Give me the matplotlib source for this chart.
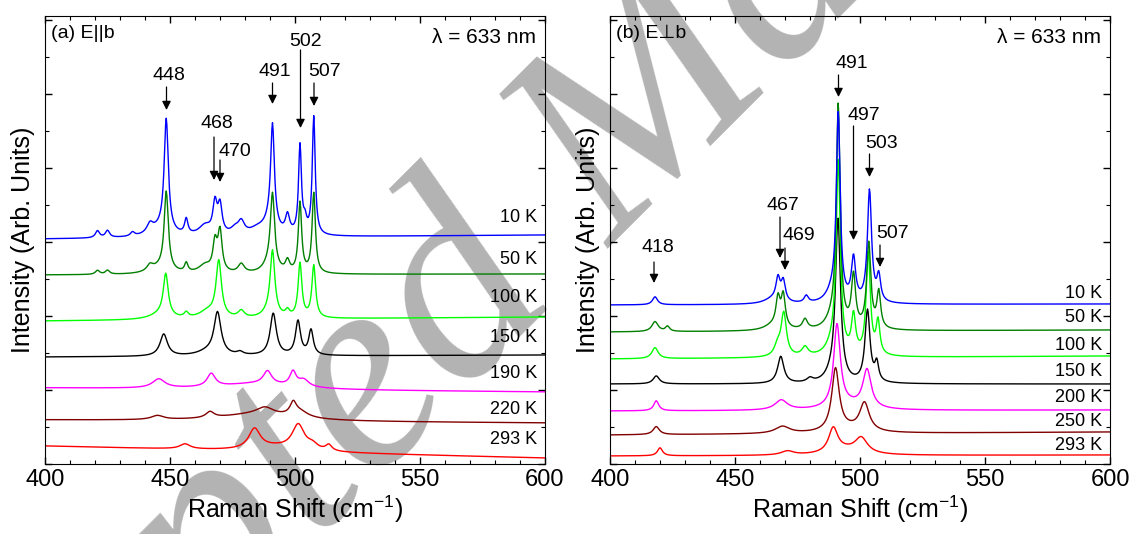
import matplotlib.pyplot as plt
import numpy as np

plt.rcParams['font.family'] = ['Liberation Sans', 'DejaVu Sans']
plt.rcParams['mathtext.fontset'] = 'custom'
plt.rcParams['mathtext.rm'] = 'Liberation Sans'

# Raman shift axis (cm-1)
shift = np.arange(400, 600.01, 0.25)

colors = ['#0000ff', '#007f00', '#00ff00', '#000000', '#ff00ff', '#800000', '#ff0000']

# ---- panel (a) E||b ----
temps_a = ['10 K', '50 K', '100 K', '150 K', '190 K', '220 K', '293 K']
base_a = [(225, 229), (189, 190), (143, 147), (107, 109), (76, 72), (44, 41), (18, 6)]
label_y_a = [246, 205, 166, 126, 91, 55, 24]
# peaks: (centre, height, half width)
peaks_a = [
    [(421, 7, 1.0), (425, 7, 1.0), (435, 4, 1.0), (442, 9, 1.5), (446, 8, 5), (448.5, 112, 1.0),
     (456.5, 15, 0.8), (464, 10, 3), (468, 30, 1.0), (470, 28, 1.0), (476, 6, 2), (478.5, 12, 1.5),
     (485, 6, 4), (490, 12, 3), (491, 100, 0.9), (497, 18, 1.0), (502, 88, 0.7), (504, 12, 0.8),
     (507.5, 118, 0.7)],
    [(421, 4, 1.0), (425, 4, 1.0), (442, 6, 1.5), (446, 6, 5), (448.5, 78, 1.0), (456.5, 9, 0.8),
     (464, 8, 3), (468, 28, 1.0), (470, 40, 1.0), (478.5, 9, 1.5), (490, 10, 3), (491, 72, 1.0),
     (497, 11, 1.0), (502, 70, 0.8), (507.5, 80, 0.8)],
    [(446, 5, 5), (448.3, 42, 1.2), (456.5, 5, 1.0), (465, 7, 4), (469.5, 56, 1.3), (478.5, 7, 1.5),
     (490, 7, 3), (491, 62, 1.1), (497, 6, 1.0), (502, 54, 0.9), (507.5, 52, 0.9)],
    [(447.5, 22, 1.8), (465, 4, 5), (469, 42, 1.7), (478, 3, 1.5), (491.3, 42, 1.5),
     (501.2, 34, 1.2), (506.4, 25, 1.1)],
    [(445.5, 9, 3), (466.5, 13, 2), (485, 6, 18), (489, 13, 2), (499.2, 14, 1.5), (503.5, 7, 2.5)],
    [(445, 4, 3), (466, 6, 2), (485, 7, 18), (488, 7, 4), (499.3, 12, 1.5), (502, 6, 4)],
    [(456, 5, 2.5), (483.8, 20, 2.8), (492, 4, 10), (501.3, 25, 3), (507, 5, 2.5), (513.5, 6, 1.5)],
]

# ---- panel (b) E perp b ----
temps_b = ['10 K', '50 K', '100 K', '150 K', '200 K', '250 K', '293 K']
base_b = [(159, 160), (132, 134), (105, 108), (80, 80), (53, 54), (29, 32), (8, 9)]
label_y_b = [171, 146, 118, 93, 66, 42, 18]
peaks_b = [
    [(418, 8, 1.2), (465, 5, 4), (467.2, 22, 1.0), (469.3, 20, 1.0), (478.5, 7, 1.0), (489, 10, 3),
     (491.3, 185, 0.9), (497.4, 43, 1.0), (503.8, 112, 1.0), (507.5, 25, 0.9)],
    [(418, 10, 1.5), (423, 5, 1.0), (465, 5, 4), (467.2, 28, 1.0), (469.3, 32, 1.0), (478, 10, 1.2),
     (489, 10, 3), (491.3, 220, 0.9), (497.4, 52, 1.0), (503.5, 85, 1.0), (507.5, 36, 0.9)],
    [(418, 11, 1.5), (467, 10, 1.5), (469.5, 43, 1.3), (478, 9, 1.5), (489, 10, 3),
     (491.3, 190, 1.0), (497.4, 38, 1.0), (503.3, 102, 1.0), (507.2, 33, 0.9)],
    [(418.5, 8, 1.5), (468.3, 27, 1.5), (480, 4, 1.5), (489, 8, 3), (491.2, 160, 1.2),
     (503, 72, 1.2), (506.7, 18, 0.9)],
    [(418.5, 10, 1.2), (468.5, 10, 3), (495, 5, 8), (490.8, 82, 1.6), (502.8, 38, 2.0)],
    [(418.5, 8, 1.5), (469, 7, 3.5), (495, 4, 8), (490.2, 62, 1.8), (501.8, 28, 2.3)],
    [(420, 8, 1.2), (471, 4, 3), (494, 5, 8), (489.3, 24, 2.2), (500.5, 15, 3)],
]

# peak annotations: (label, peak position, text x, text y, arrow top, arrow tip)
notes_a = [('448', 448.6, 449.6, 388, 377, 354), ('468', 467.6, 468.8, 341, 327, 284),
           ('470', 470.0, 475.8, 312, 304, 282), ('491', 491.0, 492.0, 393, 381, 360),
           ('502', 502.2, 504.4, 422, 414, 336), ('507', 507.6, 512.0, 393, 381, 358)]
notes_b = [('491', 491.4, 496.6, 400, 389, 367), ('497', 497.4, 501.6, 349, 338, 224),
           ('503', 503.8, 508.8, 321, 310, 287), ('507', 508.0, 513.2, 231, 219, 197),
           ('467', 468.0, 469.2, 259, 247, 206), ('469', 470.0, 475.6, 228, 216, 194),
           ('418', 417.6, 419.0, 216, 202, 181)]


def spectrum(base, peaks):
    y = base[0] + (base[1] - base[0]) * (shift - 400) / 200
    for c, h, w in peaks:
        y = y + h * w**2 / ((shift - c)**2 + w**2)
    return y


fig = plt.figure(figsize=(11.36, 5.34), dpi=100)

# grey watermark behind the plots
fig.text(0.561, 0.742, 'Accepted Manuscript', fontsize=205, family='Liberation Serif',
         style='italic', color='#b3b3b3', rotation=45, ha='center', va='center',
         rotation_mode='anchor', zorder=-1)

ax_a = fig.add_axes([45 / 1136, 70 / 534, 500 / 1136, 448 / 534])
ax_b = fig.add_axes([610 / 1136, 70 / 534, 500 / 1136, 448 / 534])

panels = [(ax_a, temps_a, base_a, label_y_a, peaks_a, notes_a, '(a) E||b'),
          (ax_b, temps_b, base_b, label_y_b, peaks_b, notes_b, '(b) E\u22a5b')]

for ax, temps, bases, label_y, peaks, notes, title in panels:
    ax.patch.set_alpha(0)
    for i in reversed(range(len(temps))):
        ax.plot(shift, spectrum(bases[i], peaks[i]), color=colors[i], lw=1.0)
        ax.text(596.8, label_y[i], temps[i], ha='right', va='center', fontsize=13)
    for lab, pos, tx, ty, y0, y1 in notes:
        ax.annotate('', xy=(pos, y1), xytext=(pos, y0),
                    arrowprops=dict(arrowstyle='-|>', color='k', lw=0.9,
                                    mutation_scale=13, shrinkA=0, shrinkB=0))
        ax.text(tx, ty, lab, ha='center', va='center', fontsize=14)
    ax.text(0.012, 0.962, title, transform=ax.transAxes, ha='left', va='center', fontsize=14)
    ax.text(0.982, 0.952, '\u03bb = 633 nm', transform=ax.transAxes, ha='right', va='center',
            fontsize=15)

    ax.set_xlim(400, 600)
    ax.set_ylim(0, 448)
    ax.set_xticks([400, 450, 500, 550, 600])
    ax.set_xticks(np.arange(400, 601, 10), minor=True)
    ax.set_yticks(np.arange(0, 448, 74))
    ax.set_yticks(np.arange(0, 448, 37), minor=True)
    ax.set_yticklabels([])
    ax.tick_params(which='both', direction='in', top=True, right=True, labelsize=17)
    ax.tick_params(which='major', length=5, width=1)
    ax.tick_params(which='minor', length=3, width=0.8)
    ax.set_xlabel('Raman Shift (cm$^{-1}$)', fontsize=18, labelpad=2)
    ax.set_ylabel('Intensity (Arb. Units)', fontsize=18, labelpad=4)

plt.savefig('out.png', dpi=100)
